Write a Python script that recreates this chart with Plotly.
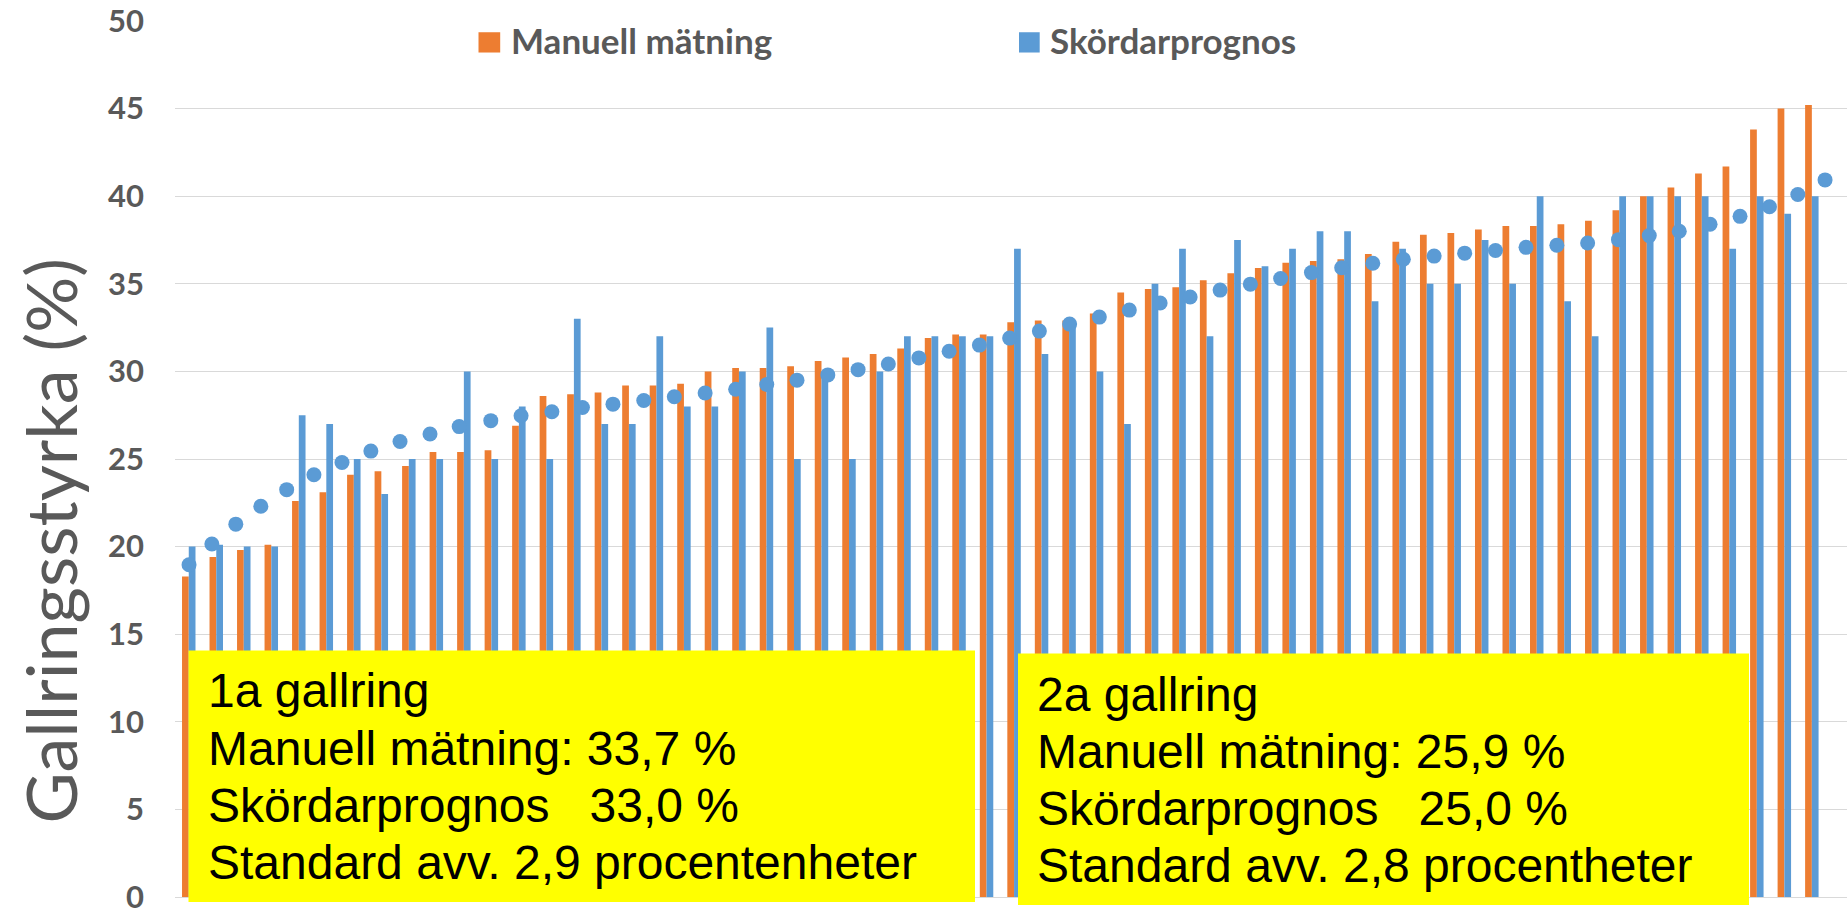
import plotly.graph_objects as go

# ---------------- data ----------------
categories = list(range(1, 61))

manuell = [18.3, 19.4, 19.8, 20.1, 22.6, 23.1, 24.1, 24.3, 24.6, 25.4,
           25.4, 25.5, 26.9, 28.6, 28.7, 28.8, 29.2, 29.2, 29.3, 30.0,
           30.2, 30.2, 30.3, 30.6, 30.8, 31.0, 31.3, 31.9, 32.1, 32.1,
           32.8, 32.9, 32.9, 33.3, 34.5, 34.7, 34.8, 35.2, 35.6, 35.9,
           36.2, 36.3, 36.4, 36.7, 37.4, 37.8, 37.9, 38.1, 38.3, 38.3,
           38.4, 38.6, 39.2, 40.0, 40.5, 41.3, 41.7, 43.8, 45.0, 45.2]

skordar = [20.0, 20.1, 20.0, 20.0, 27.5, 27.0, 25.0, 23.0, 25.0, 25.0,
           30.0, 25.0, 28.0, 25.0, 33.0, 27.0, 27.0, 32.0, 28.0, 28.0,
           30.0, 32.5, 25.0, 30.0, 25.0, 30.0, 32.0, 32.0, 32.0, 32.0,
           37.0, 31.0, 32.8, 30.0, 27.0, 35.0, 37.0, 32.0, 37.5, 36.0,
           37.0, 38.0, 38.0, 34.0, 37.0, 35.0, 35.0, 37.5, 35.0, 40.0,
           34.0, 32.0, 40.0, 40.0, 40.0, 40.0, 37.0, 40.0, 39.0, 40.0]

# dotted trend line (round dots), positions in category units
trend_x = [1.01, 1.84, 2.71, 3.62, 4.56, 5.55, 6.57, 7.62, 8.68, 9.77,
           10.83, 11.98, 13.08, 14.20, 15.31, 16.42, 17.54, 18.65, 19.77, 20.88,
           22.01, 23.11, 24.23, 25.33, 26.43, 27.54, 28.64, 29.74, 30.84, 31.92,
           33.02, 34.10, 35.19, 36.31, 37.40, 38.49, 39.59, 40.69, 41.81, 42.91,
           44.04, 45.15, 46.27, 47.38, 48.50, 49.61, 50.73, 51.85, 52.97, 54.09,
           55.18, 56.30, 57.39, 58.46, 59.49, 60.48]
trend_y = [18.96, 20.15, 21.28, 22.3, 23.25, 24.1, 24.8, 25.45, 26.0, 26.43,
           26.85, 27.19, 27.47, 27.7, 27.94, 28.13, 28.34, 28.55, 28.77, 28.98,
           29.25, 29.5, 29.8, 30.1, 30.42, 30.77, 31.15, 31.5, 31.9, 32.3,
           32.7, 33.1, 33.5, 33.9, 34.25, 34.64, 34.98, 35.3, 35.64, 35.92,
           36.17, 36.4, 36.58, 36.75, 36.9, 37.08, 37.2, 37.33, 37.52, 37.75,
           38.0, 38.4, 38.85, 39.4, 40.1, 40.93]

series_names = ["Manuell mätning", "Skördarprognos"]
y_ticks = [0, 5, 10, 15, 20, 25, 30, 35, 40, 45, 50]
y_title = "Gallringsstyrka (%)"
box1_lines = ["1a gallring", "Manuell mätning: 33,7 %",
              "Skördarprognos\u00a0\u00a0 33,0 %",
              "Standard avv. 2,9 procentenheter"]
box2_lines = ["2a gallring", "Manuell mätning: 25,9 %",
              "Skördarprognos\u00a0\u00a0 25,0 %",
              "Standard avv. 2,8 procentheter"]

ORANGE = "#ED7D31"
BLUE = "#5B9BD5"
GRAY = "#595959"
GRID = "#D9D9D9"

# ---------------- layout geometry ----------------
W, H = 1847, 915
L, R, T, B = 175, 0, 21, 13
CAT_PX = 27.51
PW, PH = W - L - R, H - T - B


def px_x(p):
    return (p - L) / PW


def px_y(p):
    return (H - B - p) / PH


fig = go.Figure()
fig.add_trace(go.Bar(x=categories, y=manuell, name=series_names[0],
                     marker=dict(color=ORANGE, line=dict(width=0))))
fig.add_trace(go.Bar(x=categories, y=skordar, name=series_names[1],
                     marker=dict(color=BLUE, line=dict(width=0))))
fig.add_trace(go.Scatter(x=trend_x, y=trend_y, mode="markers", name="Trend",
                         marker=dict(color=BLUE, size=15, line=dict(width=0))))

fig.update_layout(
    width=W, height=H,
    margin=dict(l=L, r=R, t=T, b=B, pad=0),
    plot_bgcolor="white", paper_bgcolor="white",
    barmode="group", bargap=0.51, bargroupgap=0,
    showlegend=False,
)
fig.update_xaxes(range=[0.5, 0.5 + PW / CAT_PX], showgrid=False,
                 showticklabels=False, zeroline=False, showline=False, ticks="")
fig.update_yaxes(range=[0, 50], tickvals=y_ticks, showgrid=True,
                 gridcolor=GRID, gridwidth=1.3, zeroline=True,
                 zerolinecolor=GRID, zerolinewidth=1.3, showline=False,
                 ticks="", ticklabelstandoff=30, ticklabeloverflow="allow",
                 tickfont=dict(family="Lato", size=31, color=GRAY, weight="bold"))

shapes = []
annotations = []

# y-axis title
annotations.append(dict(text=y_title, textangle=-90, xref="paper", yref="paper",
                        x=px_x(50), y=px_y(543.5), xanchor="center", yanchor="middle",
                        showarrow=False,
                        font=dict(family="Lato", size=70, color=GRAY)))

# legend
for (x0, x1, tx, col, name) in [(478.5, 500.2, 510, ORANGE, series_names[0]),
                                (1019, 1039.7, 1049, BLUE, series_names[1])]:
    shapes.append(dict(type="rect", xref="paper", yref="paper",
                       x0=px_x(x0), x1=px_x(x1), y0=px_y(52.7), y1=px_y(32.3),
                       fillcolor=col, line=dict(width=0), layer="above"))
    annotations.append(dict(text=name, xref="paper", yref="paper",
                            x=px_x(tx), y=px_y(40.5), xanchor="left", yanchor="middle",
                            showarrow=False, borderpad=0,
                            font=dict(family="Lato", size=35, color=GRAY, weight="bold")))

# yellow boxes
for (bx0, bx1, by0, by1, tx, first_center, lines) in [
        (188.5, 975, 654, 907, 206.5, 694.7, box1_lines),
        (1018, 1749, 657, 910, 1036, 698.0, box2_lines)]:
    shapes.append(dict(type="rect", xref="paper", yref="paper",
                       x0=px_x(bx0), x1=px_x(bx1), y0=px_y(by1), y1=px_y(by0),
                       fillcolor="#FFFF00", line=dict(width=0), layer="above"))
    for i, line in enumerate(lines):
        annotations.append(dict(text=line, xref="paper", yref="paper",
                                x=px_x(tx), y=px_y(first_center + i * 57.5),
                                xanchor="left", yanchor="middle", showarrow=False,
                                borderpad=0,
                                font=dict(family="Liberation Sans, Arial", size=48,
                                          color="black")))

fig.update_layout(shapes=shapes, annotations=annotations)

fig.write_html("out.html", config={"displayModeBar": False},
               post_script="document.body.style.margin='0';document.body.style.overflow='hidden';")
